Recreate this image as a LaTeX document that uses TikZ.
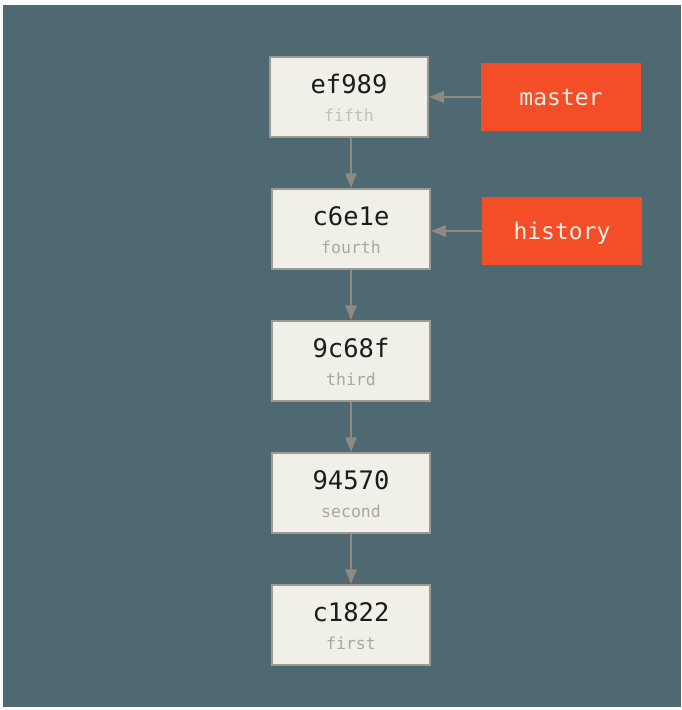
\documentclass[tikz,border=0pt]{standalone}
\usepackage{fontspec}
\setmonofont{DejaVu Sans Mono}
\usetikzlibrary{arrows.meta}
\definecolor{gitBg}{HTML}{4E6971}
\definecolor{gitBox}{HTML}{F0EFE8}
\definecolor{gitBorder}{HTML}{9E9A92}
\definecolor{gitArrow}{HTML}{8E8A82}
\definecolor{gitRed}{HTML}{F34E28}
\definecolor{gitInk}{HTML}{1C1C1C}
\definecolor{gitMuted}{HTML}{ABA79F}
\tikzset{
  font=\ttfamily,
  commit/.style={
    draw=gitBorder,
    line width=1.5pt,
    fill=gitBox,
    minimum width=158pt,
    minimum height=80pt,
    inner sep=0pt
  },
  hashtext/.style={font=\fontsize{25.5}{28}\selectfont\ttfamily, text=gitInk, anchor=base, inner sep=0pt},
  msgtext/.style={font=\fontsize{16.5}{19}\selectfont\ttfamily, text=gitMuted, anchor=base, inner sep=0pt},
  branch/.style={
    fill=gitRed,
    minimum width=160pt,
    minimum height=68pt,
    inner sep=0pt,
    text=gitBox,
    font=\fontsize{23}{26}\selectfont\ttfamily,
    text height=16pt,
    text depth=0pt
  },
  arrow/.style={-{Triangle[length=15pt, width=11pt]}, line width=2.5pt, draw=gitArrow}
}

\begin{document}
\begin{tikzpicture}[x=1pt,y=-1pt]

% --------------------------------------------------------------------------
% Canvas
% --------------------------------------------------------------------------
\useasboundingbox (0,0) rectangle (682,710);
\fill[gitBg] (3,5) rectangle (681,707);

% --------------------------------------------------------------------------
% Commits
% --------------------------------------------------------------------------
\node[commit] (c5) at (349,97) {};
\node[hashtext] (c5_hash) at ([yshift=4pt]c5.center) {ef989};
\node[msgtext, text=gitMuted!70] (c5_msg) at ([yshift=-24pt]c5.center) {fifth};

\node[commit] (c4) at (351,229) {};
\node[hashtext] (c4_hash) at ([yshift=4pt]c4.center) {c6e1e};
\node[msgtext] (c4_msg) at ([yshift=-24pt]c4.center) {fourth};

\node[commit] (c3) at (351,361) {};
\node[hashtext] (c3_hash) at ([yshift=4pt]c3.center) {9c68f};
\node[msgtext] (c3_msg) at ([yshift=-24pt]c3.center) {third};

\node[commit] (c2) at (351,493) {};
\node[hashtext] (c2_hash) at ([yshift=4pt]c2.center) {94570};
\node[msgtext] (c2_msg) at ([yshift=-24pt]c2.center) {second};

\node[commit] (c1) at (351,625) {};
\node[hashtext] (c1_hash) at ([yshift=4pt]c1.center) {c1822};
\node[msgtext] (c1_msg) at ([yshift=-24pt]c1.center) {first};

\draw[arrow] (c4.north |- c5.south) -- (c4.north);
\draw[arrow] (c4) -- (c3);
\draw[arrow] (c3) -- (c2);
\draw[arrow] (c2) -- (c1);

% --------------------------------------------------------------------------
% Branches
% --------------------------------------------------------------------------
\node[branch] (master) at (561,97) {master};
\node[branch] (history) at (562,231) {history};

\draw[arrow] (master.west) -- (master.west -| c5.east);
\draw[arrow] (history.west) -- (history.west -| c4.east);

\end{tikzpicture}
\end{document}
